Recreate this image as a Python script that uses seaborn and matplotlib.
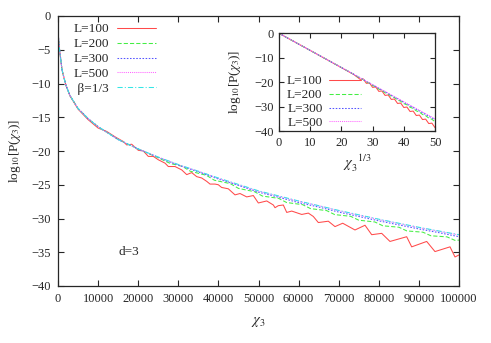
import matplotlib
matplotlib.use("Agg")
import matplotlib.pyplot as plt
import seaborn as sns
import pandas as pd

# ---------------- main panel data (chi_3, log10 P) ----------------
chi_top = [0, 100, 250, 500, 1000, 2000, 3000, 5000, 7500, 10000, 15000, 20000,
           25000, 30000, 40000, 50000, 60000, 70000, 80000, 90000, 100000]
beta13 = [0, -3.0, -4.3, -5.5, -8.0, -10.3, -11.8, -13.7, -15.2, -16.4, -18.3, -19.7,
          -20.9, -22.0, -24.0, -25.9, -27.4, -28.8, -30.1, -31.3, -32.4]

chi_early = [0, 100, 250, 500, 1000, 2000, 3000, 5000, 7500, 10000, 15000, 20000]
val_early = [0, -3.0, -4.3, -5.5, -8.0, -10.3, -11.8, -13.7, -15.2, -16.4, -18.3, -19.7]

chi_L500 = chi_early + [25000, 30000, 35000, 40000, 45000, 50000, 55000, 60000,
                        65000, 70000, 75000, 80000, 85000, 90000, 95000, 100000]
L500 = val_early + [-20.9, -22.05, -23.0, -24.05, -25.0, -25.95, -26.7, -27.45,
                    -28.1, -28.85, -29.5, -30.15, -30.75, -31.35, -31.9, -32.45]

chi_L300 = chi_L500
L300 = val_early + [-20.95, -22.1, -23.1, -24.15, -25.1, -26.1, -26.85, -27.65,
                    -28.3, -29.05, -29.7, -30.35, -30.95, -31.55, -32.1, -32.7]

chi_L200 = chi_early + [25000, 28000, 31000, 33000, 37000, 39000, 43000, 45000, 49000,
                        51000, 55000, 57000, 61000, 63000, 67000, 69000, 73000, 75000,
                        79000, 81000, 85000, 87000, 91000, 93000, 97000, 99000, 100000]
L200 = val_early + [-21.0, -21.85, -22.27, -23.0, -23.6, -24.33, -24.84, -25.54, -26.03,
                    -26.68, -27.01, -27.63, -27.95, -28.54, -28.83, -29.42, -29.68, -30.25,
                    -30.51, -31.08, -31.29, -31.84, -32.03, -32.56, -32.72, -33.24, -33.2]

chi_L100 = [0, 100, 250, 500, 1000, 2000, 3000, 5000, 7500, 10000, 12140, 14220, 16290,
            17130, 18380, 20030, 21280, 22520, 23770, 25020, 26690, 27510, 29180, 30850,
            32100, 33340, 34590, 35840, 37090, 37910, 39160, 39980, 40800, 42470, 44140,
            45390, 47060, 48710, 49960, 52050, 53700, 54120, 54940, 56190, 57040, 58290,
            60780, 62430, 63670, 64920, 66170, 67410, 69080, 71000, 74060, 76560, 78230,
            80720, 82790, 86950, 88200, 91940, 94010, 97760, 99000, 100000]
L100 = [0, -3.0, -4.3, -5.5, -8.0, -10.3, -11.85, -13.8, -15.35, -16.6, -17.1, -17.9, -18.6,
        -19.1, -19.0, -19.9, -20.0, -20.8, -20.8, -21.3, -21.8, -22.3, -22.3, -22.8,
        -23.5, -23.2, -23.8, -24.0, -24.5, -24.9, -24.9, -25.0, -25.4, -25.6, -26.5,
        -26.3, -26.8, -26.6, -27.7, -27.4, -28.0, -28.4, -28.1, -28.0, -29.1, -28.9,
        -29.4, -29.2, -29.7, -30.6, -30.5, -30.4, -31.2, -30.7, -31.7, -31.0, -32.4,
        -32.2, -33.4, -32.7, -34.2, -33.4, -34.9, -34.2, -35.7, -35.4]

# ---------------- inset data (chi_3^(1/3), log10 P) ----------------
x_in = [0, 10, 20, 24, 26, 27, 28, 29, 30, 31, 32, 33, 34, 35, 36, 37, 38, 39, 40,
        41, 42, 43, 44, 45, 46, 47, 48, 49, 50]
in_L500 = [0, -7.0, -14.0, -16.8, -18.2, -18.9, -19.6, -20.3, -21.0, -21.7, -22.4, -23.1,
           -23.8, -24.5, -25.2, -25.9, -26.6, -27.3, -28.0, -28.7, -29.4, -30.1, -30.8,
           -31.5, -32.2, -32.9, -33.6, -34.3, -35.0]
in_L300 = [0, -7.0, -14.0, -16.8, -18.2, -18.95, -19.65, -20.35, -21.1, -21.8, -22.5, -23.2,
           -23.95, -24.65, -25.4, -26.1, -26.8, -27.5, -28.25, -28.95, -29.7, -30.4, -31.1,
           -31.8, -32.55, -33.25, -33.95, -34.65, -35.35]
in_L200 = [0, -7.0, -14.0, -16.8, -18.43, -18.92, -19.91, -20.4, -21.39, -21.88, -22.87,
           -23.36, -24.35, -24.84, -25.83, -26.32, -27.31, -27.8, -28.79, -29.28, -30.27,
           -30.76, -31.75, -32.24, -33.23, -33.72, -34.71, -35.2, -36.19]
in_L100 = [0, -7.0, -14.05, -16.9, -18.85, -18.67, -20.49, -20.32, -22.14, -21.96, -23.78,
           -23.61, -25.43, -25.25, -27.08, -26.9, -28.72, -28.55, -30.37, -30.19, -32.01,
           -31.84, -33.66, -33.48, -35.31, -35.13, -36.95, -36.78, -38.6]

main_labels = ["L=100", "L=200", "L=300", "L=500", " β=1/3"]
inset_labels = ["L=100", "L=200", "L=300", "L=500"]

sns.set_style("ticks")
plt.rcParams["font.family"] = ["Liberation Serif", "DejaVu Serif"]
plt.rcParams["mathtext.fontset"] = "stix"
plt.rcParams["font.size"] = 9.5

colors = ["#ff4a4a", "#44ee44", "#5555ff", "#ff66ff", "#33e6e6"]
dashes = [(None, None), (4, 2), (1.5, 1.5), (1, 1), (5, 2, 1, 2)]

fig = plt.figure(figsize=(4.91, 3.43), dpi=100)
ax = fig.add_axes([58 / 491, 1 - 286 / 343, (459 - 58) / 491, (286 - 16) / 343])

series = [(chi_L100, L100), (chi_L200, L200), (chi_L300, L300), (chi_L500, L500), (chi_top, beta13)]
for (xs, ys), lab, c, d in zip(series, main_labels, colors, dashes):
    df = pd.DataFrame({"x": xs, "y": ys})
    sns.lineplot(data=df, x="x", y="y", ax=ax, color=c, lw=0.75, label=lab,
                 estimator=None, sort=False)
    if d[0] is not None:
        ax.lines[-1].set_dashes(d)

ax.set_xlim(0, 100000)
ax.set_ylim(-40, 0)
ax.set_xticks(range(0, 100001, 10000))
ax.set_yticks(range(-40, 1, 5))
ax.tick_params(direction="in", top=True, right=True, length=4, width=0.8, labelsize=9, pad=5)
ax.set_xlabel(r"$\chi_3$", fontsize=10.5, labelpad=7)
ax.set_ylabel(r"log$_{10}$[P($\chi_3$)]", fontsize=9.5, labelpad=6)
for s in ax.spines.values():
    s.set_linewidth(0.9)
ax.text(15000, -35, "d=3", fontsize=9.5, va="center", ha="left")
leg = ax.legend(loc="upper left", bbox_to_anchor=(0.02, 1.0), frameon=False, markerfirst=False,
                handlelength=3.0, handletextpad=0.6, labelspacing=0.2, fontsize=9.5,
                borderaxespad=0.15)

# inset
axi = fig.add_axes([279 / 491, 1 - 131 / 343, (435 - 279) / 491, (131 - 33.3) / 343])
inset_series = [in_L100, in_L200, in_L300, in_L500]
for ys, lab, c, d in zip(inset_series, inset_labels, colors[:4], dashes[:4]):
    df = pd.DataFrame({"x": x_in, "y": ys})
    sns.lineplot(data=df, x="x", y="y", ax=axi, color=c, lw=0.75, label=lab,
                 estimator=None, sort=False)
    if d[0] is not None:
        axi.lines[-1].set_dashes(d)
axi.set_xlim(0, 50)
axi.set_ylim(-40, 0)
axi.set_xticks(range(0, 51, 10))
axi.set_yticks(range(-40, 1, 10))
axi.tick_params(direction="in", top=True, right=True, length=3.5, width=0.8, labelsize=9, pad=4)
axi.set_xlabel(r"$\chi_3^{\ \ 1/3}$", fontsize=10.5, labelpad=3)
axi.set_ylabel(r"log$_{10}$[P($\chi_3$)]", fontsize=9.5, labelpad=8)
for s in axi.spines.values():
    s.set_linewidth(0.9)
axi.legend(loc="lower left", bbox_to_anchor=(0.0, -0.06), frameon=False, markerfirst=False,
           handlelength=2.4, handletextpad=0.5, labelspacing=0.12, fontsize=9.5,
           borderaxespad=0.2)

fig.savefig("out.png", dpi=100)
